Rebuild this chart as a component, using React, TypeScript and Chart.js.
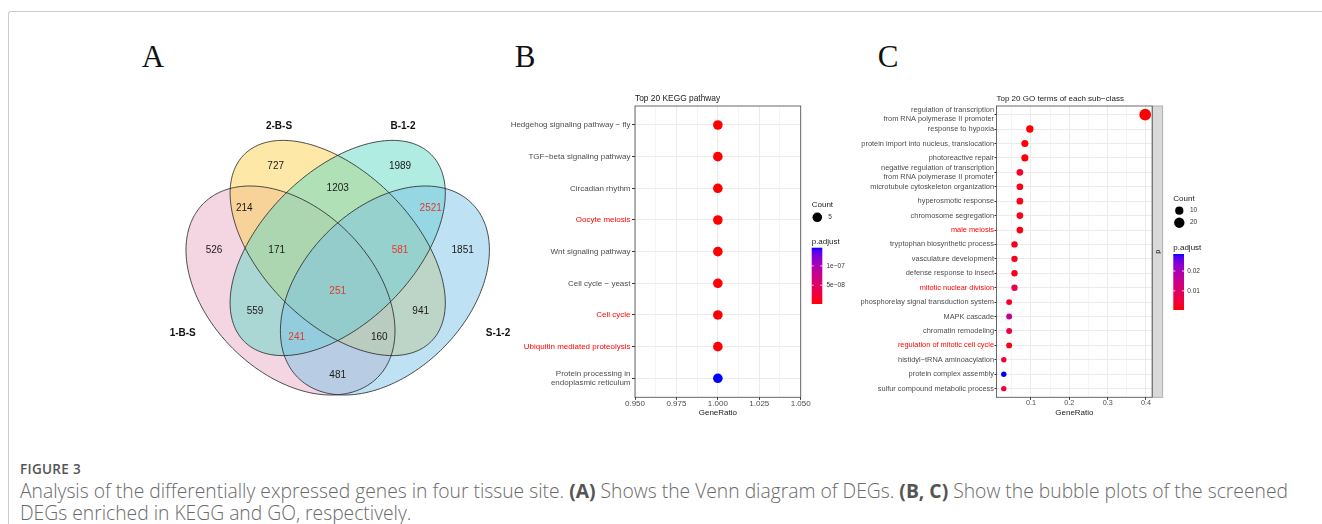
import React, { useEffect, useRef } from 'react';
import { Chart, registerables } from 'chart.js';
Chart.register(...registerables);

// ---------------- DATA ----------------
// Panel A: Venn diagram
const VENN_SETS = ['1-B-S', '2-B-S', 'B-1-2', 'S-1-2'];
const VENN_REGIONS = ['1', '2', '3', '4', '1&2', '1&3', '1&4', '2&3', '2&4', '3&4', '1&2&3', '1&2&4', '1&3&4', '2&3&4', '1&2&3&4'];
const VENN_COUNTS = [526, 727, 1989, 1851, 214, 559, 481, 1203, 941, 2521, 171, 160, 241, 581, 251];
const VENN_HIGHLIGHT = ['3&4', '2&3&4', '1&3&4', '1&2&3&4'];

// Panel B: KEGG
const KEGG_TERMS = [
  'Hedgehog signaling pathway \u2212 fly',
  'TGF\u2212beta signaling pathway',
  'Circadian rhythm',
  'Oocyte meiosis',
  'Wnt signaling pathway',
  'Cell cycle \u2212 yeast',
  'Cell cycle',
  'Ubiquitin mediated proteolysis',
  'Protein processing in\nendoplasmic reticulum',
];
const KEGG_HIGHLIGHT = [false, false, false, true, false, false, true, true, false];
const KEGG_GENE_RATIO = [1, 1, 1, 1, 1, 1, 1, 1, 1];
const KEGG_COUNT = [5, 5, 5, 5, 5, 5, 5, 5, 5];
const KEGG_P_ADJUST = [1.55e-9, 1.6e-9, 1.7e-9, 1.8e-9, 2.0e-9, 2.2e-9, 2.5e-9, 2.8e-9, 1.47e-7];
const KEGG_X_MAJOR = [0.95, 0.975, 1.0, 1.025, 1.05];
const KEGG_X_MINOR = [0.9625, 0.9875, 1.0125, 1.0375];
const KEGG_COUNT_BREAKS = [5];
const KEGG_P_BREAKS = [5e-8, 1e-7];
const KEGG_P_BREAK_LABELS = ['5e\u221208', '1e\u221207'];

// Panel C: GO
const GO_TERMS = [
  'regulation of transcription\nfrom RNA polymerase II promoter',
  'response to hypoxia',
  'protein import into nucleus, translocation',
  'photoreactive repair',
  'negative regulation of transcription\nfrom RNA polymerase II promoter',
  'microtubule cytoskeleton organization',
  'hyperosmotic response',
  'chromosome segregation',
  'male meiosis',
  'tryptophan biosynthetic process',
  'vasculature development',
  'defense response to insect',
  'mitotic nuclear division',
  'phosphorelay signal transduction system',
  'MAPK cascade',
  'chromatin remodeling',
  'regulation of mitotic cell cycle',
  'histidyl\u2212tRNA aminoacylation',
  'protein complex assembly',
  'sulfur compound metabolic process',
];
const GO_HIGHLIGHT = [false, false, false, false, false, false, false, false, true, false, false, false, true, false, false, false, true, false, false, false];
const GO_GENE_RATIO = [0.398, 0.097, 0.084, 0.084, 0.071, 0.071, 0.071, 0.071, 0.071, 0.057, 0.057, 0.057, 0.057, 0.043, 0.043, 0.043, 0.043, 0.029, 0.029, 0.029];
const GO_COUNT = [28, 7, 6, 6, 5, 5, 5, 5, 5, 4, 4, 4, 4, 3, 3, 3, 3, 2, 2, 2];
const GO_P_ADJUST = [0.0003, 0.0005, 0.0006, 0.0006, 0.0035, 0.0012, 0.0012, 0.0012, 0.0012, 0.0025, 0.0022, 0.0022, 0.0075, 0.0035, 0.0155, 0.0045, 0.0015, 0.0045, 0.0286, 0.0045];
const GO_X_MAJOR = [0.1, 0.2, 0.3, 0.4];
const GO_X_MINOR = [0.05, 0.15, 0.25, 0.35];
const GO_COUNT_BREAKS = [10, 20];
const GO_P_BREAKS = [0.01, 0.02];
const GO_P_BREAK_LABELS = ['0.01', '0.02'];
const GO_FACET = 'd';

// ---------------- LAYOUT (unit square of the Venn panel) ----------------
const VENN_ELLIPSES = [
  { cx: 0.3651, cy: 0.4414, a: 0.3517, b: 0.2337, rot: -45, fill: [233, 173, 197] },
  { cx: 0.5, cy: 0.5629, a: 0.3777, b: 0.2154, rot: -45, fill: [251, 209, 81] },
  { cx: 0.5, cy: 0.5629, a: 0.3777, b: 0.2154, rot: 45, fill: [97, 217, 197] },
  { cx: 0.6349, cy: 0.4414, a: 0.3517, b: 0.2337, rot: 45, fill: [125, 195, 231] },
];
const VENN_REGION_POS: Record<string, [number, number]> = {
  '1': [0.1466, 0.5571],
  '2': [0.3229, 0.7951],
  '3': [0.678, 0.7951],
  '4': [0.8571, 0.5571],
  '1&2': [0.2331, 0.6763],
  '1&3': [0.2637, 0.3809],
  '1&4': [0.5, 0.2],
  '2&3': [0.5, 0.7334],
  '2&4': [0.7371, 0.3809],
  '3&4': [0.7657, 0.6763],
  '1&2&3': [0.3257, 0.5571],
  '1&2&4': [0.6189, 0.3077],
  '1&3&4': [0.3829, 0.3077],
  '2&3&4': [0.678, 0.5571],
  '1&2&3&4': [0.5, 0.438],
};
const VENN_SET_POS: [number, number][] = [
  [0.0571, 0.3191],
  [0.3323, 0.9114],
  [0.6866, 0.9114],
  [0.958, 0.3191],
];

const SANS = '"Liberation Sans", Arial, sans-serif';

// ---------------- colour helpers (CIELAB gradient red -> blue) ----------------
function rgb2lab(c: number[]) {
  const lin = (v: number) => {
    v /= 255;
    return v <= 0.04045 ? v / 12.92 : Math.pow((v + 0.055) / 1.055, 2.4);
  };
  const R = lin(c[0]), G = lin(c[1]), B = lin(c[2]);
  const X = (0.4124 * R + 0.3576 * G + 0.1805 * B) / 0.95047;
  const Y = 0.2126 * R + 0.7152 * G + 0.0722 * B;
  const Z = (0.0193 * R + 0.1192 * G + 0.9505 * B) / 1.08883;
  const f = (t: number) => (t > 0.008856 ? Math.cbrt(t) : 7.787 * t + 16 / 116);
  const fx = f(X), fy = f(Y), fz = f(Z);
  return [116 * fy - 16, 500 * (fx - fy), 200 * (fy - fz)];
}
function lab2rgb(l: number[]) {
  const fy = (l[0] + 16) / 116;
  const fx = fy + l[1] / 500;
  const fz = fy - l[2] / 200;
  const inv = (t: number) => (t * t * t > 0.008856 ? t * t * t : (t - 16 / 116) / 7.787);
  const X = inv(fx) * 0.95047, Y = inv(fy), Z = inv(fz) * 1.08883;
  const R = 3.2406 * X - 1.5372 * Y - 0.4986 * Z;
  const G = -0.9689 * X + 1.8758 * Y + 0.0415 * Z;
  const B = 0.0557 * X - 0.204 * Y + 1.057 * Z;
  const g = (v: number) => {
    v = v <= 0.0031308 ? 12.92 * v : 1.055 * Math.pow(v, 1 / 2.4) - 0.055;
    return Math.round(Math.max(0, Math.min(1, v)) * 255);
  };
  return [g(R), g(G), g(B)];
}
const LOW_LAB = rgb2lab([255, 0, 0]);
const HIGH_LAB = rgb2lab([0, 0, 255]);
function gradColor(t: number) {
  t = Math.max(0, Math.min(1, t));
  const l = LOW_LAB.map((v, i) => v + (HIGH_LAB[i] - v) * t);
  const c = lab2rgb(l);
  return `rgb(${c[0]},${c[1]},${c[2]})`;
}

// ---------------- Venn chart ----------------
function makeVenn(canvas: HTMLCanvasElement) {
  const ellipsePath = (ctx: CanvasRenderingContext2D, e: any, xs: any, ys: any) => {
    const r = (e.rot * Math.PI) / 180;
    const cr = Math.cos(r), sr = Math.sin(r);
    ctx.beginPath();
    for (let k = 0; k <= 240; k++) {
      const t = (k / 240) * Math.PI * 2;
      const ux = e.cx + e.a * Math.cos(t) * cr - e.b * Math.sin(t) * sr;
      const uy = e.cy + e.a * Math.cos(t) * sr + e.b * Math.sin(t) * cr;
      const px = xs.getPixelForValue(ux);
      const py = ys.getPixelForValue(uy);
      if (k === 0) ctx.moveTo(px, py);
      else ctx.lineTo(px, py);
    }
    ctx.closePath();
  };
  const plugin = {
    id: 'vennDecor',
    beforeDatasetsDraw(chart: any) {
      const { ctx, scales } = chart;
      ctx.save();
      VENN_ELLIPSES.forEach((e) => {
        ellipsePath(ctx, e, scales.x, scales.y);
        ctx.fillStyle = `rgba(${e.fill[0]},${e.fill[1]},${e.fill[2]},0.5)`;
        ctx.fill();
      });
      ctx.strokeStyle = '#222';
      ctx.lineWidth = 0.8;
      VENN_ELLIPSES.forEach((e) => {
        ellipsePath(ctx, e, scales.x, scales.y);
        ctx.stroke();
      });
      ctx.restore();
    },
    afterDatasetsDraw(chart: any) {
      const { ctx, scales } = chart;
      const meta = chart.getDatasetMeta(0);
      ctx.save();
      ctx.textAlign = 'center';
      ctx.textBaseline = 'middle';
      ctx.font = `10px ${SANS}`;
      meta.data.forEach((pt: any, i: number) => {
        const red = VENN_HIGHLIGHT.includes(VENN_REGIONS[i]);
        ctx.fillStyle = red ? '#e4392b' : '#1a1a1a';
        ctx.fillText(String(VENN_COUNTS[i]), pt.x, pt.y);
      });
      ctx.font = `bold 10px ${SANS}`;
      ctx.fillStyle = '#111';
      VENN_SETS.forEach((s, i) => {
        ctx.fillText(s, scales.x.getPixelForValue(VENN_SET_POS[i][0]), scales.y.getPixelForValue(VENN_SET_POS[i][1]));
      });
      ctx.restore();
    },
  };
  return new Chart(canvas, {
    type: 'scatter',
    data: {
      datasets: [
        {
          data: VENN_REGIONS.map((r) => ({ x: VENN_REGION_POS[r][0], y: VENN_REGION_POS[r][1] })),
          pointRadius: 0,
          pointHoverRadius: 0,
        },
      ],
    },
    options: {
      responsive: false,
      animation: false,
      devicePixelRatio: 1,
      events: [],
      layout: { padding: { left: 12.7, right: 12.3, top: 10, bottom: 10 } },
      plugins: { legend: { display: false }, tooltip: { enabled: false } },
      scales: {
        x: { type: 'linear', min: 0, max: 1, display: false },
        y: { type: 'linear', min: 0, max: 1, display: false },
      },
    },
    plugins: [plugin],
  } as any);
}

// ---------------- Dot (bubble) charts ----------------
function makeDot(canvas: HTMLCanvasElement, cfg: any) {
  const n = cfg.terms.length;
  const pMin = Math.min(...cfg.p), pMax = Math.max(...cfg.p);
  const tOf = (p: number) => (p - pMin) / (pMax - pMin);
  const allTicks = [...cfg.xMajor, ...cfg.xMinor].sort((a: number, b: number) => a - b);
  const isMajor = (v: number) => cfg.xMajor.some((m: number) => Math.abs(m - v) < 1e-9);

  const plugin = {
    id: 'dotDecor',
    afterDatasetsDraw(chart: any) {
      const { ctx, chartArea: ca } = chart;
      ctx.save();
      ctx.strokeStyle = '#5a5a5a';
      ctx.lineWidth = 0.9;
      ctx.strokeRect(ca.left, ca.top, ca.right - ca.left, ca.bottom - ca.top);
      ctx.restore();
    },
    afterDraw(chart: any) {
      const { ctx, chartArea: ca } = chart;
      ctx.save();
      // title
      ctx.fillStyle = '#1a1a1a';
      ctx.font = `${cfg.titleSize}px ${SANS}`;
      ctx.textAlign = 'left';
      ctx.textBaseline = 'middle';
      ctx.fillText(cfg.title, ca.left, ca.top - 7.7);
      // strip
      if (cfg.facet) {
        const sx = ca.right, sw = 10.4;
        ctx.fillStyle = '#d9d9d9';
        ctx.fillRect(sx, ca.top, sw, ca.bottom - ca.top);
        ctx.strokeStyle = '#a0a0a0';
        ctx.lineWidth = 0.8;
        ctx.strokeRect(sx, ca.top, sw, ca.bottom - ca.top);
        ctx.strokeStyle = '#5a5a5a';
        ctx.beginPath();
        ctx.moveTo(sx, ca.top);
        ctx.lineTo(sx, ca.bottom);
        ctx.stroke();
        ctx.translate(sx + sw / 2, (ca.top + ca.bottom) / 2);
        ctx.rotate(Math.PI / 2);
        ctx.fillStyle = '#1a1a1a';
        ctx.font = `7px ${SANS}`;
        ctx.textAlign = 'center';
        ctx.fillText(cfg.facet, 0, 0);
        ctx.setTransform(1, 0, 0, 1, 0, 0);
      }
      // legend : Count
      const L = cfg.legend;
      ctx.textAlign = 'left';
      ctx.textBaseline = 'middle';
      ctx.fillStyle = '#1a1a1a';
      ctx.font = `8px ${SANS}`;
      ctx.fillText('Count', L.x, L.countTitleY);
      cfg.countBreaks.forEach((c: number, i: number) => {
        ctx.fillStyle = '#000';
        ctx.beginPath();
        ctx.arc(L.dotX, L.dotY[i], cfg.radius(c), 0, Math.PI * 2);
        ctx.fill();
        ctx.fillStyle = '#333';
        ctx.font = `6.5px ${SANS}`;
        ctx.fillText(String(c), L.dotLabelX, L.dotY[i]);
      });
      // legend : p.adjust
      ctx.fillStyle = '#1a1a1a';
      ctx.font = `8px ${SANS}`;
      ctx.fillText('p.adjust', L.x, L.padjTitleY);
      const g = ctx.createLinearGradient(0, L.barBottom, 0, L.barTop);
      for (let k = 0; k <= 20; k++) g.addColorStop(k / 20, gradColor(k / 20));
      ctx.fillStyle = g;
      ctx.fillRect(L.x, L.barTop, L.barW, L.barBottom - L.barTop);
      const yOf = (p: number) => L.barBottom - tOf(p) * (L.barBottom - L.barTop);
      ctx.strokeStyle = '#fff';
      ctx.lineWidth = 0.8;
      cfg.pBreaks.forEach((p: number, i: number) => {
        const yy = yOf(p);
        ctx.beginPath();
        ctx.moveTo(L.x, yy);
        ctx.lineTo(L.x + 2, yy);
        ctx.moveTo(L.x + L.barW - 2, yy);
        ctx.lineTo(L.x + L.barW, yy);
        ctx.stroke();
        ctx.fillStyle = '#333';
        ctx.font = `6.5px ${SANS}`;
        ctx.fillText(cfg.pBreakLabels[i], L.barLabelX, yy);
      });
      ctx.restore();
    },
  };

  return new Chart(canvas, {
    type: 'bubble',
    data: {
      datasets: [
        {
          data: cfg.terms.map((_: string, i: number) => ({ x: cfg.ratio[i], y: i, r: cfg.radius(cfg.count[i]) })),
          backgroundColor: cfg.p.map((p: number) => gradColor(tOf(p))),
          borderWidth: 0,
          hoverBorderWidth: 0,
          clip: false,
        },
      ],
    },
    options: {
      responsive: false,
      animation: false,
      devicePixelRatio: 1,
      events: [],
      layout: { padding: { left: 0, top: cfg.padTop, right: cfg.padRight, bottom: 0 } },
      plugins: { legend: { display: false }, tooltip: { enabled: false }, title: { display: false } },
      scales: {
        x: {
          type: 'linear',
          min: cfg.xMin,
          max: cfg.xMax,
          afterBuildTicks: (s: any) => {
            s.ticks = allTicks.map((v: number) => ({ value: v }));
          },
          afterFit: (s: any) => {
            s.height = cfg.xAxisH;
          },
          ticks: {
            autoSkip: false,
            maxRotation: 0,
            minRotation: 0,
            padding: 0,
            color: '#4d4d4d',
            font: { family: SANS, size: cfg.xTickSize, lineHeight: 1 },
            callback: (v: number) => (isMajor(v) ? cfg.xFmt(v) : ''),
          },
          grid: {
            color: '#ebebeb',
            lineWidth: (c: any) => (c.tick && isMajor(c.tick.value) ? 1 : 0.5),
            tickLength: 2.5,
            tickColor: (c: any) => (c.tick && isMajor(c.tick.value) ? '#333' : 'rgba(0,0,0,0)'),
            drawTicks: true,
          },
          border: { display: false },
          title: {
            display: true,
            text: 'GeneRatio',
            color: '#1a1a1a',
            font: { family: SANS, size: 8, lineHeight: 1.2 },
            padding: { top: 0, bottom: cfg.titlePadBottom },
          },
        },
        y: {
          type: 'linear',
          min: -0.6,
          max: n - 0.4,
          reverse: true,
          afterBuildTicks: (s: any) => {
            s.ticks = cfg.terms.map((_: string, i: number) => ({ value: i }));
          },
          afterFit: (s: any) => {
            s.width = cfg.yAxisW;
          },
          ticks: {
            autoSkip: false,
            padding: cfg.yPad,
            color: (c: any) => (cfg.highlight[c.index] ? '#ff0000' : '#4d4d4d'),
            font: { family: SANS, size: cfg.yTickSize, lineHeight: cfg.yLineHeight },
            callback: (v: number) => {
              const t = cfg.terms[v];
              if (t === undefined) return '';
              return t.includes('\n') ? t.split('\n') : t;
            },
          },
          grid: { color: '#ebebeb', lineWidth: 1, tickLength: cfg.tickLen, tickColor: '#333', drawTicks: true },
          border: { display: false },
        },
      },
    },
    plugins: [plugin],
  } as any);
}

const KEGG_CFG = {
  title: 'Top 20 KEGG pathway',
  titleSize: 8.4,
  terms: KEGG_TERMS,
  highlight: KEGG_HIGHLIGHT,
  ratio: KEGG_GENE_RATIO,
  count: KEGG_COUNT,
  p: KEGG_P_ADJUST,
  radius: (_c: number) => 4.8,
  xMin: 0.95,
  xMax: 1.05,
  xMajor: KEGG_X_MAJOR,
  xMinor: KEGG_X_MINOR,
  xFmt: (v: number) => v.toFixed(3),
  xTickSize: 8,
  yTickSize: 8,
  yLineHeight: 1.05,
  yPad: 1.5,
  tickLen: 3,
  yAxisW: 133,
  xAxisH: 25.7,
  padTop: 18,
  padRight: 79.3,
  titlePadBottom: 5.2,
  facet: null,
  countBreaks: KEGG_COUNT_BREAKS,
  pBreaks: KEGG_P_BREAKS,
  pBreakLabels: KEGG_P_BREAK_LABELS,
  legend: {
    x: 309.7,
    countTitleY: 116.3,
    dotX: 315.3,
    dotY: [129.3],
    dotLabelX: 326.3,
    padjTitleY: 153.7,
    barW: 10.6,
    barTop: 159.7,
    barBottom: 216,
    barLabelX: 324.5,
  },
};

const GO_CFG = {
  title: 'Top 20 GO terms of each sub\u2212class',
  titleSize: 8,
  terms: GO_TERMS,
  highlight: GO_HIGHLIGHT,
  ratio: GO_GENE_RATIO,
  count: GO_COUNT,
  p: GO_P_ADJUST,
  radius: (c: number) => 1.55 + 0.813 * Math.sqrt(c),
  xMin: 0.01,
  xMax: 0.4165,
  xMajor: GO_X_MAJOR,
  xMinor: GO_X_MINOR,
  xFmt: (v: number) => String(Math.round(v * 10) / 10),
  xTickSize: 7.2,
  yTickSize: 7.4,
  yLineHeight: 1.2,
  yPad: 0.5,
  tickLen: 2,
  yAxisW: 141.5,
  xAxisH: 25.7,
  padTop: 18,
  padRight: 122.7,
  titlePadBottom: 5.2,
  facet: GO_FACET,
  countBreaks: GO_COUNT_BREAKS,
  pBreaks: GO_P_BREAKS,
  pBreakLabels: GO_P_BREAK_LABELS,
  legend: {
    x: 318.3,
    countTitleY: 110.3,
    dotX: 324.3,
    dotY: [122.7, 134.7],
    dotLabelX: 335,
    padjTitleY: 159.3,
    barW: 10.7,
    barTop: 166,
    barBottom: 222,
    barLabelX: 332.3,
  },
};

export default function App() {
  const vennRef = useRef<HTMLCanvasElement>(null);
  const keggRef = useRef<HTMLCanvasElement>(null);
  const goRef = useRef<HTMLCanvasElement>(null);

  useEffect(() => {
    const charts = [
      makeVenn(vennRef.current as HTMLCanvasElement),
      makeDot(keggRef.current as HTMLCanvasElement, KEGG_CFG),
      makeDot(goRef.current as HTMLCanvasElement, GO_CFG),
    ];
    return () => charts.forEach((c) => c.destroy());
  }, []);

  const letter = (ch: string, cx: number) => (
    <div
      style={{
        position: 'absolute',
        left: cx - 20,
        top: 41,
        width: 40,
        textAlign: 'center',
        font: '31px "Liberation Serif", "DejaVu Serif", serif',
        lineHeight: '32px',
        color: '#111',
      }}
    >
      {ch}
    </div>
  );

  return (
    <div style={{ position: 'absolute', left: 0, top: 0, width: 1322, height: 524, overflow: 'hidden', background: '#fff' }}>
      <div
        style={{
          position: 'absolute',
          left: 8,
          top: 11,
          width: 1330,
          height: 540,
          borderTop: '1px solid #cccccc',
          borderLeft: '1px solid #cccccc',
          borderTopLeftRadius: 3,
          boxSizing: 'border-box',
        }}
      />
      {letter('A', 153)}
      {letter('B', 525)}
      {letter('C', 888)}
      <canvas ref={vennRef} width={375} height={370} style={{ position: 'absolute', left: 150, top: 85, width: 375, height: 370 }} />
      <canvas ref={keggRef} width={378} height={335} style={{ position: 'absolute', left: 502, top: 88, width: 378, height: 335 }} />
      <canvas ref={goRef} width={420} height={335} style={{ position: 'absolute', left: 855, top: 88, width: 420, height: 335 }} />
      <div
        style={{
          position: 'absolute',
          left: 20,
          top: 460,
          font: '600 13.5px "Open Sans", sans-serif',
          lineHeight: '18px',
          color: '#555',
          letterSpacing: '0.3px',
          whiteSpace: 'nowrap',
        }}
      >
        FIGURE 3
      </div>
      <div
        style={{
          position: 'absolute',
          left: 20,
          top: 480,
          font: '300 19.3px "Open Sans", sans-serif',
          lineHeight: '22px',
          color: '#6a6a6a',
          whiteSpace: 'nowrap',
        }}
      >
        Analysis of the differentially expressed genes in four tissue site. <b style={{ fontWeight: 700, color: '#555' }}>(A)</b> Shows the Venn diagram of DEGs.{' '}
        <b style={{ fontWeight: 700, color: '#555' }}>(B, C)</b> Show the bubble plots of the screened
        <br />
        DEGs enriched in KEGG and GO, respectively.
      </div>
    </div>
  );
}
